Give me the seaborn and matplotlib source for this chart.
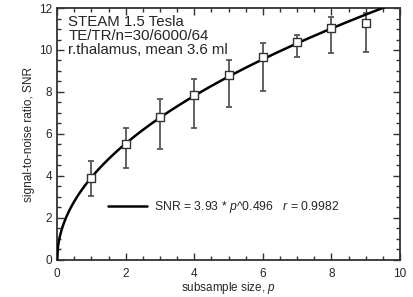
import numpy as np
import matplotlib
matplotlib.use("Agg")
import matplotlib.pyplot as plt
import seaborn as sns
from matplotlib.ticker import MultipleLocator

# data
subsample = [1, 2, 3, 4, 5, 6, 7, 8, 9]
snr_mean = [3.9, 5.5, 6.8, 7.85, 8.8, 9.65, 10.4, 11.05, 11.3]
snr_low = [3.05, 4.4, 5.3, 6.3, 7.3, 8.05, 9.65, 9.85, 9.9]
snr_high = [4.7, 6.3, 7.65, 8.6, 9.5, 10.35, 10.7, 11.55, 11.75]

# fitted power law from the legend: SNR = a * p^b
fit_a = 3.93
fit_b = 0.496

sns.set_style("ticks")
plt.rcParams['font.family'] = ['Liberation Sans', 'DejaVu Sans']
plt.rcParams['mathtext.fontset'] = 'custom'
plt.rcParams['mathtext.it'] = 'Liberation Sans:italic'
plt.rcParams['mathtext.rm'] = 'Liberation Sans'

fig = plt.figure(figsize=(4.14, 2.97), dpi=100)
ax = fig.add_axes([0.138, 0.125, 0.828, 0.848])

p = np.linspace(0, 10, 400)
sns.lineplot(x=p, y=fit_a * p ** fit_b, ax=ax, color='black', lw=1.8,
             label=r'SNR = 3.93 * $p$^0.496   $r$ = 0.9982', zorder=3)

yerr = [np.array(snr_mean) - np.array(snr_low), np.array(snr_high) - np.array(snr_mean)]
ax.errorbar(subsample, snr_mean, yerr=yerr, fmt='none', ecolor='#555555',
            elinewidth=1.3, capsize=2.5, capthick=1.3, zorder=2)
sns.scatterplot(x=subsample, y=snr_mean, ax=ax, marker='s', s=28,
                facecolor='white', edgecolor='#333333', linewidth=1.0, zorder=4)

ax.set_xlim(0, 10)
ax.set_ylim(0, 12)
ax.xaxis.set_major_locator(MultipleLocator(2))
ax.xaxis.set_minor_locator(MultipleLocator(0.5))
ax.yaxis.set_major_locator(MultipleLocator(2))
ax.yaxis.set_minor_locator(MultipleLocator(0.5))
ax.tick_params(which='both', direction='in', top=True, right=True, labelsize=8.5, color='#333333')
ax.tick_params(which='major', length=5, width=1)
ax.tick_params(which='minor', length=3, width=1)
ax.tick_params(axis='x', pad=6)
for s in ax.spines.values():
    s.set_linewidth(1.3)
    s.set_color('#333333')

ax.set_xlabel(r'subsample size, $p$', fontsize=8.4, labelpad=0)
ax.set_ylabel('signal-to-noise ratio, SNR', fontsize=8.6, labelpad=3)

ax.text(0.033, 0.972, 'STEAM 1.5 Tesla\nTE/TR/n=30/6000/64\nr.thalamus, mean 3.6 ml',
        transform=ax.transAxes, ha='left', va='top', fontsize=10.8, linespacing=0.98)

leg = ax.legend(loc='lower left', bbox_to_anchor=(0.115, 0.135), frameon=False,
                fontsize=8.8, handlelength=3.2, handletextpad=0.6)

fig.savefig('out.png', dpi=100)
